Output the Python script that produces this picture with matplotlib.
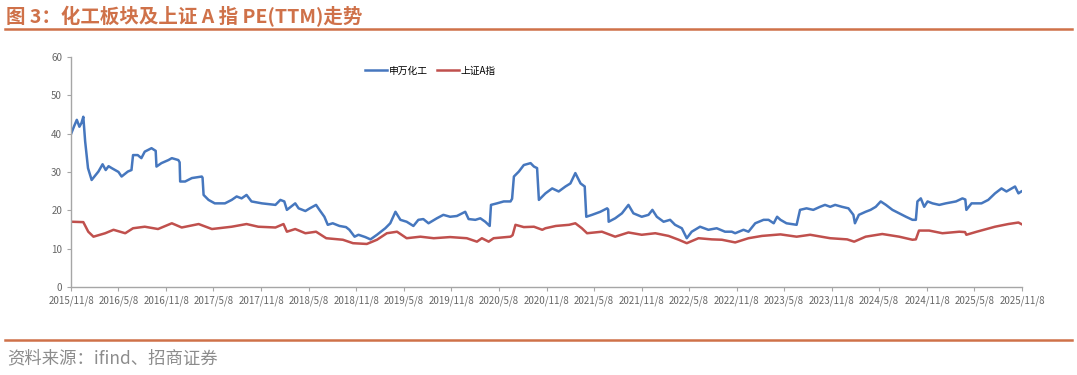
import matplotlib
matplotlib.use('Agg')
import matplotlib.pyplot as plt
import pandas as pd

plt.rcParams['font.family'] = ['Noto Sans CJK SC', 'DejaVu Sans']

# 申万化工 PE(TTM)
chem_dates = ['2015-11-09', '2015-11-20', '2015-11-30', '2015-12-10', '2015-12-18', '2015-12-25',
              '2016-01-01', '2016-01-12', '2016-01-26', '2016-02-21', '2016-03-08', '2016-03-20',
              '2016-03-31', '2016-04-12', '2016-05-08', '2016-05-20', '2016-06-13', '2016-06-27',
              '2016-07-03', '2016-07-21', '2016-08-04', '2016-08-17', '2016-09-12', '2016-09-24',
              '2016-09-28', '2016-10-01', '2016-10-20', '2016-11-16', '2016-11-29', '2016-12-24',
              '2016-12-29', '2016-12-31', '2017-01-19', '2017-02-14', '2017-03-24', '2017-03-27',
              '2017-03-31', '2017-04-19', '2017-05-13', '2017-06-21', '2017-07-17', '2017-08-05',
              '2017-08-24', '2017-09-12', '2017-10-01', '2017-11-10', '2018-01-01', '2018-01-20',
              '2018-02-04', '2018-02-14', '2018-03-18', '2018-03-31', '2018-04-26', '2018-05-13',
              '2018-06-06', '2018-06-19', '2018-07-08', '2018-07-21', '2018-08-09', '2018-09-04',
              '2018-09-29', '2018-10-12', '2018-11-01', '2018-11-16', '2018-12-12', '2019-01-01',
              '2019-01-26', '2019-02-27', '2019-03-18', '2019-04-07', '2019-04-26', '2019-05-20',
              '2019-06-15', '2019-07-04', '2019-07-23', '2019-08-12', '2019-09-13', '2019-10-08',
              '2019-11-03', '2019-11-29', '2019-12-31', '2020-01-13', '2020-02-08', '2020-02-27',
              '2020-03-17', '2020-04-03', '2020-04-08', '2020-05-01', '2020-05-27', '2020-06-22',
              '2020-06-28', '2020-07-05', '2020-07-24', '2020-08-12', '2020-09-07', '2020-09-20',
              '2020-10-02', '2020-10-09', '2020-11-03', '2020-11-29', '2020-12-24', '2021-01-19',
              '2021-02-07', '2021-02-26', '2021-03-18', '2021-04-03', '2021-04-09', '2021-05-01',
              '2021-06-02', '2021-06-28', '2021-07-02', '2021-07-04', '2021-07-29', '2021-08-24',
              '2021-09-18', '2021-10-07', '2021-11-08', '2021-12-04', '2021-12-19', '2022-01-05',
              '2022-01-31', '2022-02-25', '2022-03-16', '2022-04-11', '2022-04-30', '2022-05-19',
              '2022-06-20', '2022-07-22', '2022-08-23', '2022-09-24', '2022-10-20', '2022-11-02',
              '2022-12-04', '2022-12-23', '2023-01-18', '2023-02-19', '2023-03-10', '2023-03-30',
              '2023-04-12', '2023-04-25', '2023-05-18', '2023-06-26', '2023-07-09', '2023-08-03',
              '2023-08-29', '2023-09-24', '2023-10-13', '2023-11-02', '2023-11-21', '2023-12-17',
              '2024-01-11', '2024-01-30', '2024-02-05', '2024-02-20', '2024-03-17', '2024-04-05',
              '2024-04-25', '2024-05-14', '2024-06-03', '2024-06-28', '2024-07-24', '2024-08-19',
              '2024-09-13', '2024-09-26', '2024-10-02', '2024-10-15', '2024-10-28', '2024-11-10',
              '2024-11-29', '2024-12-25', '2025-01-19', '2025-02-27', '2025-03-24', '2025-04-04',
              '2025-04-08', '2025-04-28', '2025-06-05', '2025-07-01', '2025-07-27', '2025-08-21',
              '2025-09-09', '2025-10-12', '2025-10-25', '2025-11-05']
chem_pe = [40.1, 42.0, 43.6, 41.8, 42.8, 44.4,
           38.0, 31.0, 27.9, 30.1, 32.0, 30.5,
           31.5, 31.0, 30.0, 28.8, 30.1, 30.5,
           34.4, 34.4, 33.6, 35.3, 36.2, 35.7,
           35.5, 31.4, 32.3, 33.1, 33.6, 33.1,
           32.5, 27.5, 27.5, 28.4, 28.8, 28.5,
           24.0, 22.7, 21.8, 21.8, 22.7, 23.6,
           23.1, 24.0, 22.3, 21.8, 21.4, 22.7,
           22.3, 20.1, 21.8, 20.5, 19.8, 20.5,
           21.4, 20.1, 18.3, 16.2, 16.6, 15.9,
           15.6, 14.9, 13.1, 13.6, 13.0, 12.4,
           13.6, 15.3, 16.6, 19.6, 17.5, 17.0,
           15.9, 17.5, 17.7, 16.6, 17.9, 18.8,
           18.3, 18.5, 19.6, 17.7, 17.5, 17.9,
           17.0, 15.9, 21.4, 21.8, 22.3, 22.3,
           23.0, 28.8, 30.1, 31.8, 32.3, 31.4,
           31.0, 22.7, 24.4, 25.7, 24.9, 26.2,
           27.0, 29.7, 27.0, 26.2, 18.3, 18.8,
           19.6, 20.5, 20.2, 17.0, 17.9, 19.2,
           21.4, 19.2, 18.3, 18.8, 20.1, 18.3,
           17.0, 17.5, 16.2, 15.3, 12.7, 14.4,
           15.7, 14.9, 15.3, 14.4, 14.4, 14.0,
           14.9, 14.4, 16.6, 17.5, 17.5, 16.6,
           18.3, 17.5, 16.6, 16.2, 20.1, 20.5,
           20.1, 20.9, 21.4, 20.9, 21.4, 20.9,
           20.5, 18.8, 16.6, 18.8, 19.6, 20.1,
           20.9, 22.3, 21.4, 20.1, 19.2, 18.3,
           17.5, 17.5, 22.3, 23.1, 20.9, 22.3,
           21.8, 21.4, 21.8, 22.3, 23.1, 22.8,
           20.1, 21.8, 21.8, 22.7, 24.4, 25.7,
           24.9, 26.2, 24.4, 24.9]

# 上证A指 PE(TTM)
sh_dates = ['2015-11-10', '2015-12-25', '2016-01-13', '2016-02-02', '2016-03-18', '2016-04-19',
            '2016-06-03', '2016-07-03', '2016-08-17', '2016-10-07', '2016-11-29', '2017-01-06',
            '2017-03-12', '2017-05-02', '2017-07-17', '2017-09-12', '2017-10-27', '2018-01-01',
            '2018-02-01', '2018-02-14', '2018-03-18', '2018-04-26', '2018-06-06', '2018-07-15',
            '2018-09-17', '2018-10-26', '2018-12-18', '2019-01-26', '2019-03-05', '2019-04-13',
            '2019-05-20', '2019-07-12', '2019-09-01', '2019-11-03', '2020-01-06', '2020-02-14',
            '2020-03-04', '2020-03-30', '2020-04-18', '2020-06-22', '2020-06-30', '2020-07-11',
            '2020-08-12', '2020-09-20', '2020-10-22', '2020-11-03', '2020-12-13', '2021-02-02',
            '2021-02-26', '2021-03-23', '2021-04-12', '2021-06-08', '2021-07-29', '2021-09-18',
            '2021-11-08', '2021-12-30', '2022-02-19', '2022-03-30', '2022-04-30', '2022-06-14',
            '2022-08-04', '2022-09-12', '2022-11-02', '2022-12-23', '2023-02-13', '2023-04-25',
            '2023-06-26', '2023-08-17', '2023-11-02', '2024-01-06', '2024-02-02', '2024-03-17',
            '2024-05-20', '2024-07-24', '2024-09-13', '2024-09-26', '2024-10-08', '2024-11-16',
            '2025-01-06', '2025-03-12', '2025-04-03', '2025-04-08', '2025-05-18', '2025-07-27',
            '2025-09-16', '2025-10-25', '2025-11-05']
sh_pe = [17.0, 16.9, 14.4, 13.1, 14.0, 14.9,
         14.0, 15.3, 15.7, 15.1, 16.6, 15.5,
         16.4, 15.1, 15.7, 16.4, 15.7, 15.5,
         16.4, 14.4, 15.1, 14.0, 14.4, 12.7,
         12.3, 11.4, 11.2, 12.3, 14.0, 14.4,
         12.7, 13.1, 12.7, 13.0, 12.7, 11.8,
         12.7, 11.8, 12.7, 13.1, 13.5, 16.2,
         15.6, 15.7, 14.9, 15.3, 15.9, 16.2,
         16.6, 15.3, 14.0, 14.4, 13.1, 14.2,
         13.6, 14.0, 13.3, 12.3, 11.4, 12.7,
         12.4, 12.3, 11.6, 12.7, 13.3, 13.7,
         13.1, 13.6, 12.7, 12.4, 11.8, 13.1,
         13.8, 13.1, 12.3, 12.4, 14.7, 14.7,
         14.0, 14.4, 14.3, 13.6, 14.4, 15.7,
         16.4, 16.8, 16.4]

tick_dates = ['2015-11-08', '2016-05-08', '2016-11-08', '2017-05-08', '2017-11-08', '2018-05-08',
              '2018-11-08', '2019-05-08', '2019-11-08', '2020-05-08', '2020-11-08', '2021-05-08',
              '2021-11-08', '2022-05-08', '2022-11-08', '2023-05-08', '2023-11-08', '2024-05-08',
              '2024-11-08', '2025-05-08', '2025-11-08']

accent = '#CF7149'

fig = plt.figure(figsize=(10.77, 3.75), dpi=100)
ax = fig.add_axes([0.066, 0.235, 0.883, 0.613])

ax.plot(pd.to_datetime(chem_dates), chem_pe, color='#4677BE', lw=1.8, label='申万化工')
ax.plot(pd.to_datetime(sh_dates), sh_pe, color='#C0504D', lw=1.8, label='上证A指')

ticks = pd.to_datetime(tick_dates)
ax.set_xlim(ticks[0], ticks[-1])
ax.set_xticks(ticks)
ax.set_xticklabels([f'{t.year}/{t.month}/{t.day}' for t in ticks])
ax.set_ylim(0, 60)
ax.set_yticks(range(0, 61, 10))

for s in ['top', 'right']:
    ax.spines[s].set_visible(False)
for s in ['left', 'bottom']:
    ax.spines[s].set_color('#A6A6A6')
    ax.spines[s].set_linewidth(1.0)
ax.tick_params(axis='both', colors='#A6A6A6', labelcolor='#666666', labelsize=7, length=3)
ax.tick_params(axis='x', pad=3)

ax.legend(loc='upper center', bbox_to_anchor=(0.378, 1.0), ncol=2, frameon=False,
          fontsize=7, handlelength=2.2, columnspacing=1.0, handletextpad=0.2)

fig.text(0.006, 0.955, '图 3：化工板块及上证 A 指 PE(TTM)走势', color=accent,
         fontsize=14, fontweight='bold', va='center', ha='left')
fig.add_artist(plt.Line2D([0.005, 0.995], [0.922, 0.922], color=accent, lw=1.8))
fig.add_artist(plt.Line2D([0.005, 0.995], [0.093, 0.093], color=accent, lw=1.8))
fig.text(0.007, 0.045, '资料来源：ifind、招商证券', color='#8C8C8C', fontsize=12.5,
         va='center', ha='left')

fig.savefig('out.png', dpi=100)
